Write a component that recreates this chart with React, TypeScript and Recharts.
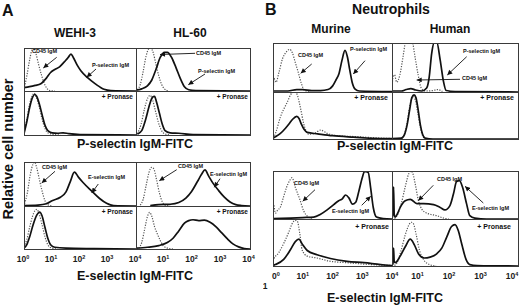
import { LineChart, Line, XAxis, YAxis } from 'recharts';

const FONT = '"Liberation Sans", Arial, Helvetica, sans-serif';
const M = 10;

type Pt = [number, number];
const toRows = (a: Pt[]) => a.map(([x, y]) => ({ x, y }));

// x = log10 fluorescence (0..4), y = relative cell number (1 = top of box)

// A, P-selectin IgM
const wehiP_cd45: Pt[] = [[0.02, 0.1], [0.1, 0.35], [0.2, 0.72], [0.28, 0.95], [0.34, 1.0], [0.42, 0.88], [0.52, 0.62], [0.62, 0.38], [0.72, 0.18], [0.82, 0.06], [0.92, 0.01], [1.1, 0]];
const wehiP_sel: Pt[] = [[0, 0.08], [0.2, 0.1], [0.4, 0.13], [0.6, 0.17], [0.8, 0.3], [0.95, 0.43], [1.1, 0.5], [1.27, 0.56], [1.4, 0.65], [1.5, 0.72], [1.6, 0.8], [1.68, 0.86], [1.76, 0.78], [1.9, 0.6], [2.03, 0.47], [2.27, 0.31], [2.56, 0.16], [2.86, 0.04], [3.1, 0.01], [4, 0]];
const hl60P_cd45: Pt[] = [[0.05, 0.03], [0.15, 0.15], [0.25, 0.45], [0.35, 0.8], [0.45, 0.98], [0.52, 1.0], [0.6, 0.9], [0.7, 0.62], [0.8, 0.35], [0.9, 0.15], [1.0, 0.05], [1.15, 0]];
const hl60P_sel: Pt[] = [[0, 0.02], [0.2, 0.05], [0.4, 0.12], [0.55, 0.25], [0.7, 0.5], [0.85, 0.78], [1.0, 0.9], [1.1, 0.9], [1.25, 0.78], [1.4, 0.55], [1.55, 0.3], [1.7, 0.1], [1.85, 0.03], [2.1, 0.01], [4, 0]];
const wehiPpro_cd45: Pt[] = [[0, 0.05], [0.1, 0.35], [0.2, 0.7], [0.3, 0.9], [0.36, 0.95], [0.44, 0.86], [0.55, 0.62], [0.65, 0.35], [0.75, 0.15], [0.85, 0.05], [1.0, 0.02], [1.3, 0]];
const wehiPpro_sel: Pt[] = [[0, 0.03], [0.1, 0.3], [0.2, 0.62], [0.3, 0.85], [0.38, 0.92], [0.45, 0.88], [0.55, 0.7], [0.65, 0.45], [0.75, 0.22], [0.85, 0.1], [1.0, 0.05], [1.2, 0.04], [1.4, 0.05], [1.6, 0.03], [2.0, 0.01], [4, 0]];
const hl60Ppro_cd45: Pt[] = [[0.05, 0.03], [0.18, 0.25], [0.3, 0.6], [0.42, 0.85], [0.5, 0.9], [0.58, 0.8], [0.68, 0.55], [0.78, 0.3], [0.88, 0.12], [1.0, 0.03], [1.2, 0]];
const hl60Ppro_sel: Pt[] = [[0.05, 0.02], [0.2, 0.1], [0.35, 0.38], [0.48, 0.7], [0.58, 0.86], [0.65, 0.88], [0.72, 0.75], [0.82, 0.5], [0.92, 0.25], [1.02, 0.1], [1.2, 0.05], [1.5, 0.04], [2.0, 0.01], [4, 0]];

// A, E-selectin IgM
const wehiE_cd45: Pt[] = [[0.02, 0.05], [0.12, 0.3], [0.22, 0.7], [0.32, 0.95], [0.38, 1.0], [0.45, 0.88], [0.55, 0.6], [0.65, 0.33], [0.75, 0.12], [0.85, 0.03], [1.0, 0]];
const wehiE_sel: Pt[] = [[0, 0.01], [0.5, 0.02], [0.8, 0.05], [1.0, 0.12], [1.3, 0.2], [1.5, 0.32], [1.65, 0.55], [1.8, 0.77], [1.95, 0.65], [2.1, 0.54], [2.4, 0.35], [2.7, 0.17], [2.95, 0.06], [3.2, 0.01], [4, 0]];
const hl60E_cd45: Pt[] = [[0.15, 0.02], [0.25, 0.15], [0.35, 0.45], [0.45, 0.75], [0.55, 0.88], [0.62, 0.85], [0.72, 0.6], [0.82, 0.3], [0.92, 0.1], [1.02, 0.02], [1.2, 0]];
const hl60E_sel: Pt[] = [[0.5, 0.01], [0.8, 0.03], [1.2, 0.04], [1.5, 0.08], [1.75, 0.18], [1.95, 0.33], [2.15, 0.55], [2.3, 0.72], [2.42, 0.82], [2.55, 0.68], [2.7, 0.52], [2.9, 0.35], [3.1, 0.2], [3.3, 0.09], [3.5, 0.03], [3.7, 0.01], [4, 0]];
const wehiEpro_cd45: Pt[] = [[0, 0.05], [0.1, 0.22], [0.2, 0.5], [0.3, 0.75], [0.4, 0.9], [0.46, 0.92], [0.55, 0.8], [0.65, 0.55], [0.75, 0.28], [0.85, 0.1], [1.0, 0.02], [1.2, 0]];
const wehiEpro_sel: Pt[] = [[0, 0.02], [0.1, 0.1], [0.2, 0.28], [0.32, 0.55], [0.45, 0.78], [0.56, 0.86], [0.64, 0.78], [0.75, 0.5], [0.85, 0.25], [0.95, 0.1], [1.1, 0.04], [1.5, 0.02], [2.5, 0.01], [4, 0]];
const hl60Epro_cd45: Pt[] = [[0.1, 0.02], [0.2, 0.15], [0.3, 0.45], [0.4, 0.75], [0.48, 0.85], [0.56, 0.75], [0.65, 0.52], [0.75, 0.35], [0.85, 0.2], [0.95, 0.08], [1.1, 0.02], [1.3, 0]];
const hl60Epro_sel: Pt[] = [[0, 0.02], [0.4, 0.04], [0.8, 0.08], [1.1, 0.15], [1.3, 0.25], [1.5, 0.42], [1.7, 0.6], [1.85, 0.66], [2.0, 0.68], [2.2, 0.66], [2.4, 0.67], [2.6, 0.62], [2.8, 0.52], [3.0, 0.38], [3.2, 0.24], [3.4, 0.12], [3.6, 0.05], [3.8, 0.01], [4, 0]];

// B, neutrophils, P-selectin IgM
const murP_cd45: Pt[] = [[0.01, 0.02], [0.03, 0.28], [0.1, 0.2], [0.2, 0.4], [0.32, 0.68], [0.45, 0.82], [0.56, 0.87], [0.65, 0.8], [0.75, 0.6], [0.85, 0.4], [0.95, 0.18], [1.05, 0.04], [1.2, 0.01]];
const murP_sel: Pt[] = [[0, 0.02], [0.5, 0.02], [0.8, 0.05], [1.0, 0.05], [1.3, 0.03], [1.6, 0.03], [1.85, 0.05], [2.0, 0.12], [2.12, 0.25], [2.22, 0.38], [2.32, 0.65], [2.42, 0.85], [2.5, 0.72], [2.58, 0.45], [2.66, 0.2], [2.76, 0.06], [2.9, 0.02], [4, 0.01]];
const humP_cd45: Pt[] = [[0, 0.05], [0.03, 0.3], [0.08, 0.35], [0.15, 0.2], [0.25, 0.35], [0.35, 0.72], [0.43, 1.05], [0.5, 1.3], [0.58, 1.3], [0.65, 1.05], [0.73, 0.72], [0.83, 0.35], [0.93, 0.08], [1.05, 0.02], [1.3, 0.03], [1.45, 0.05], [1.6, 0.01]];
const humP_sel: Pt[] = [[0, 0.02], [0.3, 0.02], [0.45, 0.05], [0.6, 0.07], [0.75, 0.04], [0.95, 0.02], [1.1, 0.08], [1.18, 0.3], [1.26, 0.79], [1.35, 1.02], [1.42, 1.02], [1.53, 0.65], [1.63, 0.23], [1.72, 0.03], [2.0, 0.01], [4, 0]];
const murPpro_cd45: Pt[] = [[0.02, 0.02], [0.1, 0.15], [0.25, 0.47], [0.47, 0.77], [0.64, 0.98], [0.75, 1.0], [0.82, 0.93], [0.92, 0.67], [1.03, 0.33], [1.2, 0.1], [1.4, 0.12], [1.6, 0.19], [1.82, 0.12], [2.16, 0.07], [2.8, 0.05], [3.6, 0.02], [4, 0.01]];
const murPpro_sel: Pt[] = [[0, 0.02], [0.08, 0.05], [0.25, 0.12], [0.42, 0.23], [0.55, 0.33], [0.66, 0.42], [0.8, 0.48], [0.88, 0.43], [0.95, 0.32], [1.05, 0.2], [1.15, 0.14], [1.5, 0.11], [2.0, 0.07], [2.7, 0.04], [3.6, 0.01], [4, 0.01]];
const humPpro_cd45: Pt[] = [[0.3, 0.01], [0.4, 0.12], [0.48, 0.35], [0.55, 0.65], [0.62, 0.85], [0.68, 0.9], [0.75, 0.8], [0.82, 0.55], [0.9, 0.25], [0.97, 0.07], [1.05, 0.01]];
const humPpro_sel: Pt[] = [[0, 0.01], [0.3, 0.02], [0.4, 0.1], [0.48, 0.3], [0.56, 0.62], [0.63, 0.88], [0.7, 0.94], [0.76, 0.88], [0.83, 0.62], [0.9, 0.3], [0.97, 0.1], [1.05, 0.02], [1.3, 0], [4, 0]];

// B, neutrophils, E-selectin IgM
const murE_cd45: Pt[] = [[0, 0.05], [0.02, 0.3], [0.08, 0.12], [0.15, 0.18], [0.25, 0.25], [0.35, 0.45], [0.45, 0.65], [0.57, 0.81], [0.64, 0.86], [0.75, 0.66], [0.9, 0.41], [1.03, 0.17], [1.17, 0.05], [1.3, 0.01]];
const murE_sel: Pt[] = [[0, 0.01], [0.6, 0.02], [1.0, 0.03], [1.37, 0.04], [1.6, 0.1], [1.82, 0.19], [2.04, 0.3], [2.21, 0.38], [2.33, 0.42], [2.44, 0.5], [2.55, 0.44], [2.67, 0.31], [2.78, 0.35], [2.89, 0.59], [3.0, 0.86], [3.08, 0.99], [3.2, 0.97], [3.28, 0.66], [3.37, 0.24], [3.48, 0.04], [3.7, 0.01], [4, 0]];
const humE_cd45: Pt[] = [[0.08, 0.01], [0.16, 0.07], [0.29, 0.31], [0.42, 0.67], [0.53, 0.94], [0.6, 1.0], [0.66, 0.95], [0.74, 0.72], [0.84, 0.38], [0.95, 0.2], [1.05, 0.14], [1.21, 0.1], [1.42, 0.07], [1.63, 0.02], [1.8, 0]];
const humE_sel: Pt[] = [[0, 0.02], [0.03, 0.1], [0.05, 0.67], [0.07, 0.1], [0.1, 0.04], [0.18, 0.12], [0.26, 0.24], [0.42, 0.38], [0.58, 0.41], [0.79, 0.32], [1.0, 0.32], [1.32, 0.3], [1.53, 0.24], [1.68, 0.19], [1.84, 0.28], [1.95, 0.52], [2.05, 0.78], [2.14, 0.8], [2.24, 0.66], [2.37, 0.31], [2.47, 0.07], [2.63, 0.02], [3, 0], [4, 0]];
const murEpro_cd45: Pt[] = [[0, 0.05], [0.02, 0.14], [0.19, 0.28], [0.36, 0.48], [0.53, 0.72], [0.67, 0.93], [0.75, 0.97], [0.82, 0.95], [0.9, 0.69], [0.98, 0.34], [1.15, 0.21], [1.48, 0.17], [1.93, 0.1], [2.49, 0.07], [3.28, 0.03], [4, 0.01]];
const murEpro_sel: Pt[] = [[0, 0.01], [0.08, 0.03], [0.36, 0.14], [0.58, 0.34], [0.75, 0.52], [0.87, 0.57], [0.98, 0.47], [1.15, 0.33], [1.48, 0.24], [1.93, 0.16], [2.49, 0.1], [3.06, 0.07], [3.62, 0.03], [4, 0.01]];
const humEpro_cd45: Pt[] = [[0.08, 0.01], [0.16, 0.07], [0.28, 0.31], [0.42, 0.66], [0.56, 0.9], [0.62, 0.93], [0.68, 0.9], [0.77, 0.66], [0.87, 0.34], [1.0, 0.14], [1.19, 0.03], [1.4, 0]];
const humEpro_sel: Pt[] = [[0, 0.02], [0.03, 0.05], [0.05, 0.38], [0.07, 0.1], [0.1, 0.07], [0.26, 0.21], [0.42, 0.41], [0.58, 0.57], [0.71, 0.45], [0.84, 0.26], [1.02, 0.17], [1.21, 0.19], [1.42, 0.26], [1.58, 0.38], [1.74, 0.62], [1.89, 0.84], [2.0, 0.88], [2.1, 0.76], [2.21, 0.48], [2.35, 0.14], [2.47, 0.03], [2.7, 0.01], [4, 0]];

const ticksLeft = [0, 1, 2, 3, 4];
const ticksRight = [1, 2, 3, 4];

function PowTick(props: any) {
  const { x, y, payload, shift = 0, split = false } = props;
  const v = payload.value;
  if (split && v === 0) {
    return (
      <g fontFamily={FONT} fontWeight="bold" fill="#1a1a1a">
        <text x={x + 3} y={y + 13} textAnchor="middle" fontSize={8.5}>0<tspan dy={-3.5} fontSize={5.5}>0</tspan></text>
        <text x={x - 8} y={y + 23} textAnchor="middle" fontSize={8.5}>1</text>
      </g>
    );
  }
  return (
    <text x={x + shift} y={y + 13} textAnchor="middle" fontFamily={FONT} fontSize={8.5} fontWeight="bold" fill="#1a1a1a">
      10<tspan dy={-3.5} fontSize={5.5}>{v}</tspan>
    </text>
  );
}

function Hist({ x, y, w, h, solid, dotted, ticks, shift = 0, split = false }: any) {
  const axisH = ticks ? 28 : 0;
  return (
    <div style={{ position: 'absolute', left: x - M, top: y }}>
      <LineChart width={w + 2 * M} height={h + axisH} margin={{ top: 0, right: M, bottom: 0, left: M }}>
        <XAxis
          type="number"
          dataKey="x"
          domain={[0, 4]}
          allowDataOverflow
          hide={!ticks}
          ticks={ticks}
          interval={0}
          tickLine={false}
          axisLine={false}
          tickSize={0}
          tickMargin={0}
          height={axisH}
          tick={(p: any) => <PowTick {...p} shift={shift} split={split} />}
        />
        <YAxis type="number" domain={[0, 1]} allowDataOverflow hide />
        <Line data={toRows(dotted)} dataKey="y" type="monotone" stroke="#555" strokeWidth={1.2} strokeDasharray="1.2 1.4" dot={false} isAnimationActive={false} />
        <Line data={toRows(solid)} dataKey="y" type="monotone" stroke="#111" strokeWidth={1.7} dot={false} isAnimationActive={false} />
      </LineChart>
    </div>
  );
}

// group geometry: column edges and row edges of each 2x2 block
const groups = [
  { cols: [24, 136, 250], rows: [48, 91, 135], sets: [[wehiP_sel, wehiP_cd45], [hl60P_sel, hl60P_cd45], [wehiPpro_sel, wehiPpro_cd45], [hl60Ppro_sel, hl60Ppro_cd45]] },
  { cols: [24, 136, 250], rows: [162, 206, 249], sets: [[wehiE_sel, wehiE_cd45], [hl60E_sel, hl60E_cd45], [wehiEpro_sel, wehiEpro_cd45], [hl60Epro_sel, hl60Epro_cd45]], axis: { shiftL: -1, shiftR: -1.5, split: false } },
  { cols: [273, 392, 518], rows: [43, 92, 139], sets: [[murP_sel, murP_cd45], [humP_sel, humP_cd45], [murPpro_sel, murPpro_cd45], [humPpro_sel, humPpro_cd45]] },
  { cols: [273, 392, 518], rows: [171, 219, 266], sets: [[murE_sel, murE_cd45], [humE_sel, humE_cd45], [murEpro_sel, murEpro_cd45], [humEpro_sel, humEpro_cd45]], axis: { shiftL: 0, shiftR: -6, split: true } },
];

const labels: [string, number, number][] = [
  ['CD45 IgM', 32, 53], ['P-selectin IgM', 92, 66.5], ['CD45 IgM', 196, 54.5], ['P-selectin IgM', 198, 73],
  ['CD45 IgM', 42, 168.5], ['E-selectin IgM', 88, 178.5], ['CD45 IgM', 178, 167.5], ['E-selectin IgM', 210, 175.5],
  ['CD45 IgM', 298, 57], ['P-selectin IgM', 350, 50.5], ['P-selectin IgM', 463, 53], ['CD45 IgM', 462, 79.5],
  ['CD45 IgM', 294, 184.5], ['E-selectin IgM', 332, 212.5], ['CD45 IgM', 437, 181], ['E-selectin IgM', 472, 210],
];

const arrows: [number, number, number, number][] = [
  [56.7, 57.3, 43.3, 68], [96, 69, 86.7, 77.3], [195, 53.3, 160, 54.5], [205, 74, 188.3, 84.7],
  [55, 171.3, 41.7, 183], [98.3, 184, 91.7, 193], [176.7, 169.7, 159.3, 180.7], [220, 178.7, 214.3, 187.3],
  [311.7, 64, 300.7, 73.3], [365, 60.7, 353.3, 74], [466.7, 56.7, 447.3, 75], [460, 79.3, 416.7, 80],
  [315, 189.7, 302.7, 201.3], [361.7, 205.3, 370.7, 196.3], [433.3, 185.3, 418.3, 200.7], [483.3, 203, 465, 186.3],
];

const pronase: [number, number, number][] = [
  [133, 99, 6.5], [248, 99, 6.5], [133, 214, 6.5], [248, 214, 6.5],
  [388, 100, 7], [514, 100, 7], [389, 229, 7], [511, 229, 7],
];

export default function App() {
  return (
    <div style={{ position: 'absolute', left: 0, top: 0, width: 520, height: 306, background: '#fff', overflow: 'hidden' }}>
      {groups.map((g, gi) => {
        const [c0, c1, c2] = g.cols;
        const [r0, r1, r2] = g.rows;
        const cells = [
          { x: c0, y: r0, w: c1 - c0, h: r1 - r0 },
          { x: c1, y: r0, w: c2 - c1, h: r1 - r0 },
          { x: c0, y: r1, w: c1 - c0, h: r2 - r1 },
          { x: c1, y: r1, w: c2 - c1, h: r2 - r1 },
        ];
        return cells.map((c, ci) => {
          const ax = g.axis && ci >= 2 ? g.axis : null;
          return (
            <Hist
              key={`${gi}-${ci}`}
              {...c}
              solid={g.sets[ci][0]}
              dotted={g.sets[ci][1]}
              ticks={ax ? (ci === 2 ? ticksLeft : ticksRight) : undefined}
              shift={ax ? (ci === 2 ? ax.shiftL : ax.shiftR) : 0}
              split={ax ? ax.split && ci === 2 : false}
            />
          );
        });
      })}
      <svg width={520} height={306} style={{ position: 'absolute', left: 0, top: 0, pointerEvents: 'none' }} fontFamily={FONT} fill="#111">
        <defs>
          <marker id="ah" viewBox="0 0 10 10" refX="10" refY="5" markerWidth="6" markerHeight="5" markerUnits="userSpaceOnUse" orient="auto">
            <path d="M0,0 L10,5 L0,10 z" fill="#111" />
          </marker>
        </defs>
        {groups.map((g, gi) => (
          <g key={gi} stroke="#3a3a3a" strokeWidth={1} fill="none">
            <rect x={g.cols[0] + 0.5} y={g.rows[0] + 0.5} width={g.cols[2] - g.cols[0]} height={g.rows[2] - g.rows[0]} />
            <line x1={g.cols[1] + 0.5} x2={g.cols[1] + 0.5} y1={g.rows[0]} y2={g.rows[2]} />
            <line x1={g.cols[0]} x2={g.cols[2]} y1={g.rows[1] + 0.5} y2={g.rows[1] + 0.5} />
          </g>
        ))}
        {arrows.map(([x1, y1, x2, y2], i) => (
          <line key={i} x1={x1} y1={y1} x2={x2} y2={y2} stroke="#111" strokeWidth={0.9} markerEnd="url(#ah)" />
        ))}
        {labels.map(([t, x, y], i) => (
          <text key={i} x={x} y={y} fontSize={5.5} fontWeight="bold">{t}</text>
        ))}
        {pronase.map(([x, y, s], i) => (
          <text key={i} x={x} y={y} fontSize={s} fontWeight="bold" textAnchor="end">+ Pronase</text>
        ))}
        <text x={2} y={16} fontSize={16} fontWeight="bold">A</text>
        <text x={265} y={15} fontSize={16} fontWeight="bold">B</text>
        <text x={391} y={13.5} fontSize={14} fontWeight="bold" textAnchor="middle">Neutrophils</text>
        <text x={75} y={36.5} fontSize={12} fontWeight="bold" textAnchor="middle">WEHI-3</text>
        <text x={190} y={36.5} fontSize={12} fontWeight="bold" textAnchor="middle">HL-60</text>
        <text x={331} y={32.5} fontSize={12} fontWeight="bold" textAnchor="middle">Murine</text>
        <text x={450} y={32.5} fontSize={12} fontWeight="bold" textAnchor="middle">Human</text>
        <text x={135} y={148} fontSize={12.5} fontWeight="bold" textAnchor="middle">P-selectin IgM-FITC</text>
        <text x={395} y={150} fontSize={12.5} fontWeight="bold" textAnchor="middle">P-selectin IgM-FITC</text>
        <text x={135} y={280} fontSize={12.5} fontWeight="bold" textAnchor="middle">E-selectin IgM-FITC</text>
        <text x={385} y={302} fontSize={12.5} fontWeight="bold" textAnchor="middle">E-selectin IgM-FITC</text>
        <text x={13} y={149} fontSize={14.5} fontWeight="bold" textAnchor="middle" transform="rotate(-90 13 149)">Relative cell number</text>
      </svg>
    </div>
  );
}
